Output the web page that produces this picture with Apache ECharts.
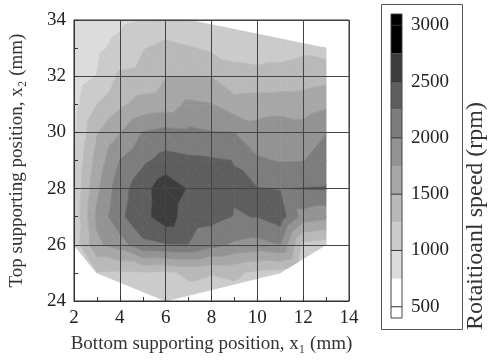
<!DOCTYPE html>
<html>
<head>
<meta charset="utf-8">
<title>Rotational speed map</title>
<script src="https://cdn.jsdelivr.net/npm/echarts@6/dist/echarts.min.js"></script>
<style>
html, body { margin: 0; padding: 0; background: #fff; }
#main { width: 489px; height: 360px; }
</style>
</head>
<body>
<div id="main"></div>
<script>
// bottom supporting position x1 (mm) and top supporting position x2 (mm)
var x1Pos = [2, 3, 4, 5, 6, 7, 8, 9, 10, 11, 12, 13];
var x2Pos = [34, 33, 32, 31, 30, 29, 28, 27, 26, 25, 24];

// rotational speed (rpm), one row per x2 value (34 at top)
var speed = [
  [800, 880, 950, 1010, 1090, 1100, 1120, 1100, 1080, 1060, 1050, 1050],
  [830, 950, 1070, 1235, 1320, 1265, 1210, 1190, 1170, 1160, 1200, 1150],
  [870, 1010, 1295, 1330, 1490, 1490, 1495, 1310, 1300, 1330, 1370, 1400],
  [920, 1250, 1450, 1590, 1620, 1800, 1760, 1600, 1630, 1640, 1630, 1700],
  [960, 1480, 1740, 2010, 2080, 2050, 2010, 2000, 1850, 1900, 1850, 1990],
  [1020, 1600, 2010, 2200, 2340, 2300, 2280, 2245, 2030, 1985, 1990, 2130],
  [1040, 1700, 2150, 2400, 2660, 2480, 2400, 2270, 2260, 2240, 2260, 2270],
  [1060, 1800, 2200, 2420, 2640, 2360, 2330, 2240, 2255, 2380, 1900, 1820],
  [1100, 1700, 1870, 2200, 2240, 2245, 2080, 1960, 1915, 2000, 1180, 1110],
  [1150, 1230, 1220, 1230, 1210, 1290, 1260, 1290, 1200, 1150, 1000, 1000],
  [1100, 1100, 1100, 1100, 1100, 1150, 1150, 1150, 1100, 1050, 950, 950]
];

// outline of the measured region (clockwise)
var hullX1 = [2, 7, 13, 13, 11, 6, 3, 2];
var hullX2 = [34, 34, 33, 26, 25, 24, 25, 26];

// contour levels (rpm) and fill greys, lowest band first
var levels = [400, 750, 1000, 1250, 1500, 1750, 2000, 2250, 2500, 2750, 3100];
var greys = ['#ffffff', '#dcdcdc', '#cbcbcb', '#b9b9b9', '#a7a7a7', '#939393',
             '#7d7d7d', '#5e5e5e', '#3d3d3d', '#000000'];
var barTicks = [500, 1000, 1500, 2000, 2500, 3000];

var serif = 'Liberation Serif';

// keep the part of a polygon where fn >= 0
function clipPoly(poly, fn) {
  var out = [];
  for (var i = 0; i < poly.length; i++) {
    var a = poly[i], b = poly[(i + 1) % poly.length];
    var fa = fn(a), fb = fn(b);
    if (fa >= 0) out.push(a);
    if ((fa >= 0) !== (fb >= 0)) {
      var t = fa / (fa - fb);
      out.push({ x: a.x + t * (b.x - a.x), y: a.y + t * (b.y - a.y), v: a.v + t * (b.v - a.v) });
    }
  }
  return out;
}

function insideHull(poly) {
  var n = hullX1.length;
  for (var k = 0; k < n && poly.length >= 3; k++) {
    var ax = hullX1[k], ay = hullX2[k];
    var bx = hullX1[(k + 1) % n], by = hullX2[(k + 1) % n];
    poly = clipPoly(poly, function (p) {
      return -((bx - ax) * (p.y - ay) - (by - ay) * (p.x - ax));
    });
  }
  return poly;
}

function pt(i, j) {
  return { x: x1Pos[i], y: x2Pos[j], v: speed[j][i] };
}

var cells = [];
for (var j = 0; j < x2Pos.length - 1; j++) {
  for (var i = 0; i < x1Pos.length - 1; i++) {
    cells.push([x1Pos[i], x2Pos[j], i, j]);
  }
}

function renderCell(params, api) {
  var i = api.value(2), j = api.value(3);
  var A = pt(i, j), B = pt(i + 1, j), C = pt(i, j + 1), D = pt(i + 1, j + 1);
  var tris = [[A, B, D], [A, D, C]];
  var children = [];
  tris.forEach(function (tri) {
    var poly = insideHull(tri);
    if (poly.length < 3) return;
    for (var k = 0; k < greys.length; k++) {
      var lo = levels[k], hi = levels[k + 1];
      var band = poly;
      if (k > 0) band = clipPoly(band, function (p) { return p.v - lo; });
      if (band.length >= 3 && k < greys.length - 1) band = clipPoly(band, function (p) { return hi - p.v; });
      if (band.length < 3) continue;
      children.push({
        type: 'polygon',
        shape: { points: band.map(function (p) { return api.coord([p.x, p.y]); }) },
        style: { fill: greys[k], stroke: greys[k], lineWidth: 0.7 }
      });
    }
  });
  return { type: 'group', children: children };
}

var bands = [];
for (var k = 0; k < greys.length; k++) bands.push([levels[k], levels[k + 1], k]);

function renderBand(params, api) {
  var p0 = api.coord([0, api.value(0)]);
  var p1 = api.coord([1, api.value(1)]);
  return {
    type: 'rect',
    shape: { x: p0[0], y: p1[1], width: p1[0] - p0[0], height: p0[1] - p1[1] },
    style: { fill: greys[api.value(2)], stroke: null }
  };
}

function renderTick(params, api) {
  var p0 = api.coord([0, api.value(0)]);
  var p1 = api.coord([1, api.value(0)]);
  return {
    type: 'line',
    shape: { x1: p0[0], y1: p0[1], x2: p1[0], y2: p1[1] },
    style: { stroke: '#333', lineWidth: 1 }
  };
}

function renderOutline(params, api) {
  var p0 = api.coord([0, api.value(0)]);
  var p1 = api.coord([1, api.value(1)]);
  return {
    type: 'rect',
    shape: { x: p0[0], y: p1[1], width: p1[0] - p0[0], height: p0[1] - p1[1] },
    style: { fill: null, stroke: '#444', lineWidth: 1 }
  };
}

var myChart = echarts.init(document.getElementById('main'));
var option = {
  animation: false,
  backgroundColor: '#fff',
  grid: [
    { left: 69, right: 140, top: 20, bottom: 59, show: true, borderColor: '#333', borderWidth: 1, z: 10 },
    { left: 391, width: 11, top: 14, bottom: 42 }
  ],
  xAxis: [
    {
      gridIndex: 0, type: 'value', min: 2, max: 14, interval: 2, z: 10,
      name: 'Bottom supporting position, x\u2081 (mm)',
      nameLocation: 'middle', nameGap: 34,
      nameTextStyle: { fontFamily: serif, fontSize: 19, color: '#333' },
      axisLine: { show: true, lineStyle: { color: '#333', width: 1 } },
      axisTick: { show: true, inside: true, length: 5, lineStyle: { color: '#333' } },
      minorTick: { show: true, splitNumber: 2, length: 4, lineStyle: { color: '#333' } },
      splitLine: { show: true, lineStyle: { color: '#444', width: 1 } },
      axisLabel: { fontFamily: serif, fontSize: 19, color: '#222', margin: 8 }
    },
    { gridIndex: 1, type: 'value', min: 0, max: 1, show: false }
  ],
  yAxis: [
    {
      gridIndex: 0, type: 'value', min: 24, max: 34, interval: 2, z: 10,
      name: 'Top supporting position, x\u2082 (mm)',
      nameLocation: 'middle', nameGap: 47,
      nameTextStyle: { fontFamily: serif, fontSize: 19, color: '#333' },
      axisLine: { show: true, lineStyle: { color: '#333', width: 1 } },
      axisTick: { show: true, inside: true, length: 5, lineStyle: { color: '#333' } },
      minorTick: { show: true, splitNumber: 2, length: 4, lineStyle: { color: '#333' } },
      splitLine: { show: true, lineStyle: { color: '#444', width: 1 } },
      axisLabel: { fontFamily: serif, fontSize: 19, color: '#222', margin: 8 }
    },
    {
      gridIndex: 1, type: 'value', min: 400, max: 3100, position: 'right',
      axisLine: { show: false }, axisTick: { show: false }, splitLine: { show: false },
      axisLabel: {
        customValues: barTicks, fontFamily: serif, fontSize: 19, color: '#222', margin: 9,
        formatter: function (v) { return String(v); }
      }
    }
  ],
  graphic: [
    {
      type: 'rect', shape: { x: 381.5, y: 4.5, width: 81, height: 325 },
      style: { fill: null, stroke: '#555', lineWidth: 1 }
    },
    {
      type: 'text', x: 476, y: 216, rotation: Math.PI / 2,
      style: {
        text: 'Rotaitioanl speed (rpm)', fontFamily: serif, fontSize: 24, fill: '#333',
        align: 'center', verticalAlign: 'middle'
      }
    }
  ],
  series: [
    {
      type: 'custom', xAxisIndex: 0, yAxisIndex: 0, silent: true,
      renderItem: renderCell, data: cells
    },
    {
      type: 'custom', xAxisIndex: 1, yAxisIndex: 1, silent: true,
      renderItem: renderBand, data: bands
    },
    {
      type: 'custom', xAxisIndex: 1, yAxisIndex: 1, silent: true, z: 3,
      renderItem: renderTick, data: barTicks.map(function (v) { return [v]; })
    },
    {
      type: 'custom', xAxisIndex: 1, yAxisIndex: 1, silent: true, z: 4,
      renderItem: renderOutline, data: [[levels[0], levels[levels.length - 1]]]
    }
  ]
};
myChart.setOption(option);
</script>
</body>
</html>
